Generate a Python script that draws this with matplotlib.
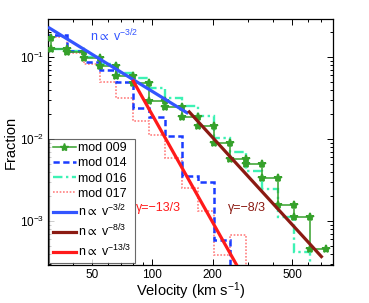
import numpy as np
import matplotlib
matplotlib.use("Agg")
import matplotlib.pyplot as plt
from matplotlib.lines import Line2D
from matplotlib.ticker import FixedLocator, NullFormatter, FuncFormatter

plt.rcParams['font.family'] = ['Liberation Sans', 'DejaVu Sans']
plt.rcParams['mathtext.fontset'] = 'custom'
plt.rcParams['mathtext.rm'] = 'Liberation Sans'
plt.rcParams['mathtext.it'] = 'Liberation Sans:italic'
plt.rcParams['mathtext.bf'] = 'Liberation Sans:bold'
plt.rcParams['mathtext.fallback'] = 'stixsans'

# ---- data ----
bin_edges = [25.7, 30.9, 37.4, 45.3, 54.5, 65.9, 79.8, 96.1, 115.5, 139.9,
             168.3, 202.6, 243.9, 293.9, 353.8, 425.7, 511.6, 615.4, 741.5]
mod009 = [0.171, 0.125, 0.114, 0.098, 0.0767, 0.0586, 0.0486, 0.0293, 0.0243,
          0.0185, 0.01425, 0.00894, 0.0057, 0.00496, 0.00337, 0.00158, 0.00112, 0.000456]
mod014 = [0.187, 0.187, 0.12, 0.088, 0.069, 0.049, 0.0239, 0.0188, 0.0108,
          0.0035, 0.00296, 0.00059, 0, 0, 0, 0, 0, 0]
mod016 = [0.125, 0.125, 0.117, 0.099, 0.083, 0.064, 0.055, 0.042, 0.032,
          0.0251, 0.019, 0.0103, 0.0070, 0.00403, 0.00245, 0.00111, 0.000417, 0]
mod017 = [0.177, 0.177, 0.112, 0.082, 0.050, 0.0319, 0.0164, 0.0113, 0.0058,
          0.00252, 0.00131, 0.00039, 0.00068, 0, 0, 0, 0, 0]

# power-law fits: n = A * v^gamma over a velocity range
fit_v32 = dict(A=38.0, gamma=-3/2, vrange=[30, 151])
fit_v83 = dict(A=14300.0, gamma=-8/3, vrange=[151, 710])
fit_v133 = dict(A=9.07e6, gamma=-13/3, vrange=[79.5, 300])

x_ticks = [50, 100, 200, 500]
x_minor = [30, 40, 60, 70, 80, 90, 300, 400, 600, 700, 800]
y_ticks = [1e-3, 1e-2, 1e-1]

# ---- styles ----
c_green = '#36A12B'
c_blue = '#1A3CFF'
c_cyan = '#3DF2B4'
c_pink = '#FF8080'
c_fit1 = '#3355FF'
c_fit2 = '#8B1A12'
c_fit3 = '#FF1A1A'

fig = plt.figure(figsize=(3.69, 3.03), dpi=100)
ax = fig.add_axes([0.130, 0.125, 0.772, 0.812])
ax.set_xscale('log')
ax.set_yscale('log')

edges = np.array(bin_edges)

def floor0(v):
    v = np.asarray(v, dtype=float)
    return np.where(v > 0, v, 1e-9)

ax.stairs(floor0(mod017), edges, baseline=None, color=c_pink, lw=1.2,
          linestyle=(0, (1, 1.0)), zorder=2)
ax.stairs(floor0(mod016), edges, baseline=None, color=c_cyan, lw=1.7,
          linestyle=(0, (4, 1.5, 1, 1.5)), zorder=2.2)
ax.stairs(floor0(mod014), edges, baseline=None, color=c_blue, lw=1.8,
          linestyle=(0, (2.5, 1.4)), zorder=2.4)
g = np.asarray(mod009)
ax.stairs(g, edges, baseline=None, color=c_green, lw=1.1, zorder=3)
ax.plot(edges[:-1], g, ls='none', marker='*', ms=6, color=c_green, mew=1.3, zorder=3.1)
ax.plot(edges[1:], g, ls='none', marker='*', ms=6, color=c_green, mew=1.3, zorder=3.1)

for fit, col in [(fit_v32, c_fit1), (fit_v83, c_fit2), (fit_v133, c_fit3)]:
    v = np.array(fit['vrange'], dtype=float)
    ax.plot(v, fit['A'] * v ** fit['gamma'], color=col, lw=2.3, zorder=4,
            solid_capstyle='butt')

ax.set_xlim(30, 800)
ax.set_ylim(2.9e-4, 0.29)

ax.xaxis.set_major_locator(FixedLocator(x_ticks))
ax.xaxis.set_minor_locator(FixedLocator(x_minor))
ax.xaxis.set_major_formatter(FuncFormatter(lambda x, p: f'{x:g}'))
ax.xaxis.set_minor_formatter(NullFormatter())
ax.yaxis.set_major_locator(FixedLocator(y_ticks))
ax.tick_params(which='both', direction='in', top=True, right=True, labelsize=8.5,
               width=0.7)
ax.tick_params(which='major', length=4, pad=2.5)
ax.tick_params(which='minor', length=2)
for s in ax.spines.values():
    s.set_linewidth(0.9)

ax.set_xlabel('Velocity (km s$^{-1}$)', fontsize=10.5, labelpad=0)
ax.set_ylabel('Fraction', fontsize=10.5, labelpad=2)

prop = 'n${\\propto}$ v'
ax.text(0.147, 0.93, prop + '$^{-3/2}$', transform=ax.transAxes, color=c_fit1,
        fontsize=9, va='center')
ax.text(0.31, 0.232, '\u03b3=\u221213/3', transform=ax.transAxes, color=c_fit3,
        fontsize=9, va='center')
ax.text(0.632, 0.232, '\u03b3=\u22128/3', transform=ax.transAxes, color=c_fit2,
        fontsize=9, va='center')

handles = [
    Line2D([], [], color=c_green, lw=1.1, marker='*', ms=6),
    Line2D([], [], color=c_blue, lw=1.8, linestyle=(0, (2.5, 1.4))),
    Line2D([], [], color=c_cyan, lw=1.7, linestyle=(0, (4, 1.5, 1, 1.5))),
    Line2D([], [], color=c_pink, lw=1.2, linestyle=(0, (1, 1.0))),
    Line2D([], [], color=c_fit1, lw=2.3),
    Line2D([], [], color=c_fit2, lw=2.3),
    Line2D([], [], color=c_fit3, lw=2.3),
]
labels = ['mod 009', 'mod 014', 'mod 016', 'mod 017',
          prop + '$^{-3/2}$', prop + '$^{-8/3}$', prop + '$^{-13/3}$']
leg = ax.legend(handles, labels, loc='lower left', bbox_to_anchor=(0.005, 0.01),
                fontsize=9, frameon=True, fancybox=False, edgecolor='#444444',
                handlelength=1.8, handletextpad=0.2, borderpad=0.3,
                labelspacing=0.25, borderaxespad=0.0, numpoints=1)
leg.get_frame().set_linewidth(0.8)

fig.savefig('out.png', dpi=100)
